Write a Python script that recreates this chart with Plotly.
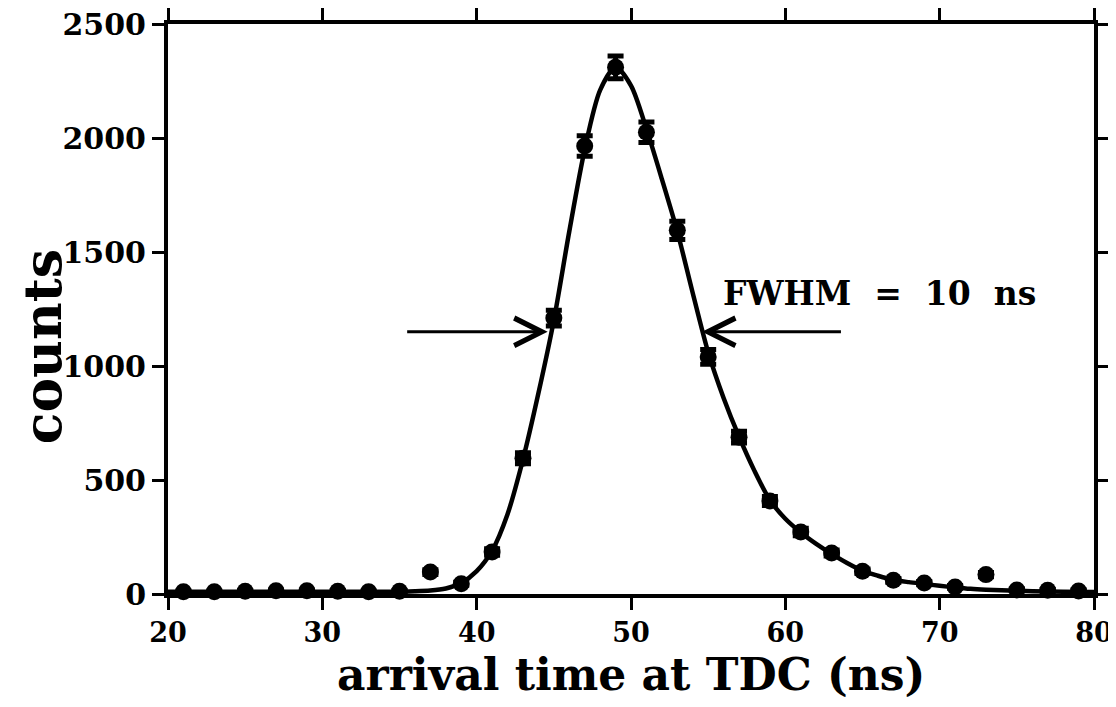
import plotly.graph_objects as go

# measured data points (arrival time in ns, counts)
t_data = [21, 23, 25, 27, 29, 31, 33, 35, 37, 39, 41, 43, 45, 47, 49, 51, 53, 55,
          57, 59, 61, 63, 65, 67, 69, 71, 73, 75, 77, 79]
counts = [10, 10, 12, 14, 14, 12, 10, 12, 96, 45, 184, 595, 1210, 1965, 2310, 2025, 1595, 1040,
          688, 408, 272, 180, 100, 60, 48, 31, 85, 18, 16, 13]
count_err = [3, 3, 3, 4, 4, 3, 3, 3, 10, 7, 14, 24, 35, 45, 50, 45, 40, 32,
             26, 20, 16, 13, 10, 8, 7, 6, 9, 4, 4, 4]

# fitted curve
t_fit = [20, 25, 30, 34, 36, 37, 38, 39, 40, 41, 42, 43, 44, 45, 46, 47, 48, 49, 50,
         51, 52, 53, 54, 55, 56, 57, 58, 59, 60, 61, 62, 63, 64, 65, 66, 67, 68, 69,
         70, 71, 72, 73, 74, 75, 76, 78, 80]
c_fit = [10, 10, 10, 10, 12, 15, 24, 48, 100, 190, 350, 590, 880, 1200, 1590, 1950, 2210, 2310, 2230,
         2040, 1820, 1590, 1320, 1060, 860, 690, 540, 412, 330, 270, 220, 176, 136, 102, 80, 62, 52, 44,
         36, 29, 23, 19, 16, 14, 12, 10, 9]

# FWHM arrow annotations: (tail x, tip x) at half maximum
half_max = 1150
arrow_tails = [35.4, 63.7]
arrow_tips = [44.6, 54.6]
label_text = "FWHM\u00a0\u00a0=\u00a0\u00a010\u00a0\u00a0ns"
label_pos = (55.8, 1320)

x_ticks = [20, 30, 40, 50, 60, 70, 80]
y_ticks = [0, 500, 1000, 1500, 2000, 2500]
x_title = "arrival time at TDC (ns)"
y_title = "counts"

FONT = "DejaVu Serif"

fig = go.Figure()
fig.add_trace(go.Scatter(
    x=t_fit, y=c_fit, mode="lines", line=dict(color="black", width=4.5, shape="spline", smoothing=0.8),
    hoverinfo="skip", showlegend=False, cliponaxis=False))
fig.add_trace(go.Scatter(
    x=t_data, y=counts, mode="markers",
    marker=dict(symbol="circle", size=17, color="black"),
    error_y=dict(type="data", array=count_err, visible=True, color="black", thickness=5, width=8),
    showlegend=False, cliponaxis=False))

for tail, tip in zip(arrow_tails, arrow_tips):
    fig.add_annotation(x=tip, y=half_max, ax=tail, ay=half_max, xref="x", yref="y",
                       axref="x", ayref="y", text="", showarrow=True, arrowhead=5,
                       arrowsize=1.8, arrowwidth=3, arrowcolor="black", standoff=0)

fig.add_annotation(x=label_pos[0], y=label_pos[1], xref="x", yref="y", text=label_text,
                   showarrow=False, xanchor="left", yanchor="middle",
                   font=dict(family=FONT, size=33, color="black", weight="bold"))

# axis titles as annotations for precise placement
fig.add_annotation(x=0.5, y=-0.141, xref="paper", yref="paper", text=x_title,
                   showarrow=False, xanchor="center", yanchor="middle",
                   font=dict(family=FONT, size=44, color="black", weight="bold"))
fig.add_annotation(x=-0.136, y=0.433, xref="paper", yref="paper", text=y_title,
                   showarrow=False, xanchor="center", yanchor="middle", textangle=-90,
                   font=dict(family=FONT, size=52, color="black", weight="bold"))

axis_common = dict(showline=True, linecolor="black", linewidth=4, mirror="allticks",
                   ticks="outside", ticklen=12, tickwidth=3, tickcolor="black",
                   showgrid=False, zeroline=False, automargin=False,
                   ticklabeloverflow="allow")

fig.update_xaxes(range=[20, 80], tickvals=x_ticks, ticktext=[str(v) for v in x_ticks],
                 tickfont=dict(family=FONT, size=27, color="black", weight="bold"),
                 ticklabelstandoff=0, **axis_common)
fig.update_yaxes(range=[0, 2500], tickvals=y_ticks, ticktext=[str(v) for v in y_ticks],
                 tickfont=dict(family=FONT, size=30, color="black", weight="bold"),
                 **axis_common)

# page body has an 8px margin; size the figure so that it fills the 1116x707 window
fig.update_layout(width=1108, height=691, plot_bgcolor="white", paper_bgcolor="white",
                  margin=dict(l=160, r=22, t=16, b=105))

fig.write_html("out.html")
